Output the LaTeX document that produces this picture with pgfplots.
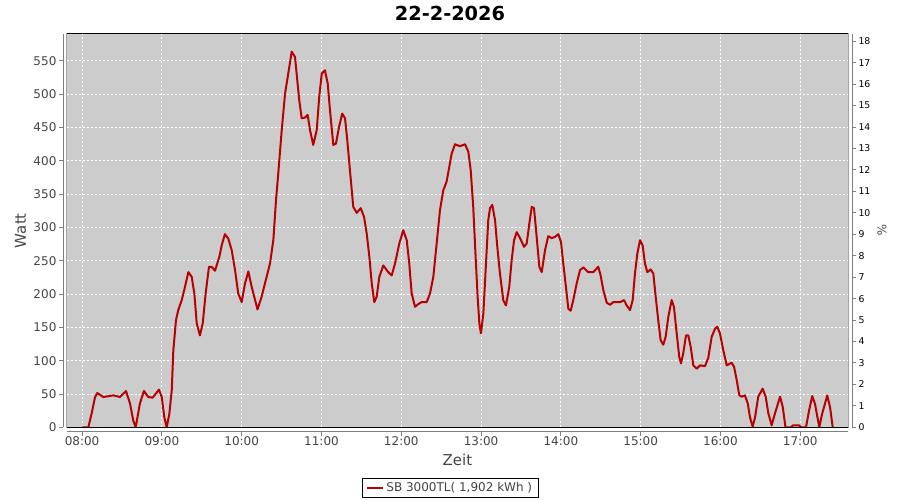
\documentclass[border=0pt]{standalone}
\usepackage{fontspec}
\setmainfont{DejaVu Sans}
\usepackage{pgfplots}
\pgfplotsset{compat=1.18}
\definecolor{bggray}{RGB}{204,204,204}
\definecolor{linered}{RGB}{185,0,0}
\definecolor{ticktext}{RGB}{68,68,68}
\definecolor{axgray}{RGB}{128,128,128}
\begin{document}
\begin{tikzpicture}
\useasboundingbox (0,0) rectangle (675pt,375pt);
\begin{axis}[
  at={(50.0pt,54.5pt)}, anchor=south west, scale only axis,
  width=586.2pt, height=295pt,
  xmin=468.4, xmax=1056.1, ymin=0, ymax=590.5,
  axis x line*=bottom, axis y line*=left,
  axis line style={-, draw=axgray, line width=0.75pt},
  x axis line style={yshift=-3.3pt},
  y axis line style={xshift=-2.55pt},
  tick align=outside, major tick length=3pt,
  xtick style={yshift=-3.3pt, draw=axgray, line width=0.75pt},
  ytick style={xshift=-2.55pt, draw=axgray, line width=0.75pt},
  xtick={480,540,600,660,720,780,840,900,960,1020},
  xticklabels={08:00,09:00,10:00,11:00,12:00,13:00,14:00,15:00,16:00,17:00},
  ytick={0,50,100,150,200,250,300,350,400,450,500,550},
  /pgf/number format/assume math mode=true,
  every tick label/.append style={inner sep=0pt, font=\fontsize{9}{10}\selectfont, text=ticktext},
  xticklabel shift=4pt, yticklabel shift=4.5pt,
  grid=major,
  grid style={white, line width=0.75pt, dash pattern=on 1.5pt off 1.5pt},
  axis background/.style={fill=bggray},
  clip=true,
  title={\bfseries 22-2-2026},
  every axis title/.style={at={(axis description cs:0.4904,1.0527)}, anchor=center, font=\fontsize{14.5}{16}\selectfont},
  xlabel={Zeit},
  xlabel style={at={(axis description cs:0.5,-0.082)}, anchor=center, font=\fontsize{11.25}{13}\selectfont, text=ticktext},
  ylabel={Watt},
  ylabel style={at={(axis description cs:-0.0591,0.5)}, anchor=center, font=\fontsize{11.25}{13}\selectfont, text=ticktext},
  legend style={at={(axis description cs:0.491,-0.154)}, anchor=center, draw=black, line width=0.75pt,
    font=\fontsize{9}{10}\selectfont, text=ticktext, inner xsep=2.5pt, inner ysep=1pt},
  legend image code/.code={\draw[#1] (0pt,0pt) -- (11.8pt,0pt);},
]
\addplot[linered, line width=1.5pt, line join=round] coordinates {
(480,0) (484.7,0) (487.2,21) (489.7,45) (491.4,51.5) (495.9,45.5) (503.5,48) (508.5,45.5) (513,54.5) (516,36) (518.5,10) (520.3,0) (523.5,36) (526.5,54.5) (529.8,45.5) (533.1,44.6) (537.8,56.6) (539.9,45.5) (541.8,15.5) (543.6,0) (545.6,20) (547.4,55.6) (548.6,115.7) (550.6,161) (552.3,176) (554.9,191) (556.8,206) (559.9,233) (562.4,226) (564.4,201) (566.2,156) (568.6,138) (570.7,156) (572.9,201) (575.4,241) (577.4,241) (579.9,235) (583.2,256) (585,273.5) (587.4,290) (589.9,283.5) (592.5,266) (595,236) (597.4,201) (600,188) (602.5,216) (605,234) (607.5,211) (611.9,177) (615,196) (617.5,216) (621.3,246) (623.8,281) (625.8,341) (627.5,381) (630.1,446) (632.6,501) (635,531) (637.6,564) (640.1,556) (641.8,521) (643.3,491) (645.1,464) (647.6,465) (649.6,469) (651.4,446) (653.8,424) (656.4,446) (658.3,496) (660.2,531) (662.6,536) (664.7,516) (666.4,476) (668.9,424) (670.9,426) (673.2,451) (675.6,471) (677.7,464) (679.4,431) (681.4,386) (683.9,331) (686.5,322) (689.5,329) (692,316) (694,291) (696,256) (697.8,216) (699.7,188) (701.5,196) (703.5,226) (706.5,243) (710.2,233) (712.8,228) (715.3,246) (718.5,276) (721.5,296) (724.1,281) (726,246) (727.8,201) (730.3,181) (732.8,185) (735.3,188) (739.1,188) (741.6,201) (744.1,226) (746.6,276) (749.1,326) (751.6,356) (754.1,369) (756.1,391) (757.9,411) (760.4,425) (764.1,422) (767.9,425) (770.4,414) (772.2,386) (774.1,331) (775.9,256) (777.4,196) (778.7,156) (779.9,141) (781.7,171) (783.7,246) (785.4,311) (786.7,329) (788.4,334) (790.5,311) (792.2,271) (794.2,231) (796.7,191) (798.7,183) (801.2,211) (803,251) (804.8,281) (806.8,293) (809.3,284) (812.3,271) (814.3,276) (816.3,306) (818.1,331) (819.8,329) (821.8,286) (823.8,241) (825.6,233) (828.1,266) (830.5,287) (833.1,284) (835.6,286) (838.1,290) (840.1,278) (841.8,246) (843.8,211) (845.6,178) (847.4,175) (849.3,191) (851.9,216) (854.4,236) (856.9,240) (860.6,233) (864.4,233) (868.1,241) (869.9,228) (871.9,206) (874.5,187) (877,184) (879.4,188) (884.5,188) (887.5,191) (889.5,183) (892,176) (894,191) (895.7,231) (897.5,261) (899.5,281) (901.5,273) (903.2,246) (905,233) (907.5,237) (909.5,231) (911.3,196) (913.2,161) (915,131) (917,124) (918.8,136) (920.8,166) (923.3,191) (925,181) (927.1,141) (929,106) (930.3,96) (932,111) (934.1,138) (935.8,138) (937.6,121) (939.6,93) (942.1,88) (944.6,93) (948.4,92) (950.8,104) (953.4,136) (955.9,148) (957.6,151) (959.6,141) (962.1,116) (964.7,93) (968.4,97) (970.2,91) (972.2,71) (974.2,48) (976,46) (978.4,48) (980.5,36) (982.2,15) (984.2,1) (986,15) (988.4,46) (991.7,58) (994,46) (996,21) (998.5,3) (1001,21) (1004.8,46) (1006.8,31) (1008.9,0) (1013,0) (1014.5,3) (1019,3) (1020.6,0) (1024.3,0) (1026.6,25) (1029,47) (1031.1,35) (1034.3,0) (1036.4,20) (1040.3,48) (1042.4,30) (1044.4,0)
};
\addlegendentry{SB 3000TL( 1,902 kWh )}
\draw[black, line width=0.75pt] (rel axis cs:0,0) rectangle (rel axis cs:1,1);
\end{axis}
\begin{axis}[
  at={(50.0pt,54.5pt)}, anchor=south west, scale only axis,
  width=586.2pt, height=295pt,
  xmin=468.4, xmax=1056.1, ymin=0, ymax=18.34,
  axis x line=none, axis y line*=right,
  axis line style={-, draw=axgray, line width=0.75pt},
  y axis line style={xshift=3pt},
  tick align=outside, major tick length=3pt,
  ytick style={xshift=3pt, draw=axgray, line width=0.75pt},
  ytick={0,1,2,3,4,5,6,7,8,9,10,11,12,13,14,15,16,17,18},
  /pgf/number format/assume math mode=true,
  every tick label/.append style={inner sep=0pt, font=\fontsize{7}{8}\selectfont, text=black},
  yticklabel shift=4.5pt,
  ylabel={\%},
  ylabel style={at={(axis description cs:1.0431,0.5)}, anchor=center, rotate=180, font=\fontsize{9}{10}\selectfont, text=ticktext},
]
\end{axis}
\end{tikzpicture}
\end{document}
